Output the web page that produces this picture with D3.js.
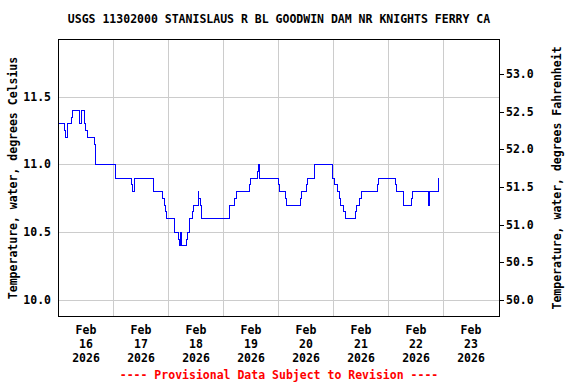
<!DOCTYPE html>
<html><head><meta charset="utf-8">
<script src="https://cdn.jsdelivr.net/npm/d3@7"></script>
<style>
html,body{margin:0;padding:0;background:#fff;}
text{font-family:"DejaVu Sans Mono",monospace;font-weight:bold;}
</style></head>
<body>
<svg id="c" width="576" height="384"></svg>
<script>
const title = "USGS 11302000 STANISLAUS R BL GOODWIN DAM NR KNIGHTS FERRY CA";
const leftLabel = "Temperature, water, degrees Celsius";
const rightLabel = "Temperature, water, degrees Fahrenheit";
const footer = "---- Provisional Data Subject to Revision ----";
// hours since 2026-02-16 00:00 at which the reading changes
const hours = [0,2.5,3,3.75,5.5,6,9,10,10.25,11.25,11.75,12.5,15.5,16,16.25,24.75,32,32.25,33,41.25,45.25,46.25,46.75,47.25,50.5,50.75,52.5,53,53.25,53.5,56,56.5,57,58.5,59,61,61.25,62,62.5,74.5,77,77.5,83.25,83.75,86.75,87.25,87.5,96,96.5,99,99.5,105.75,106.25,108.25,108.75,111.5,119.5,120.25,121.75,122.5,123.25,124.25,125.25,129.5,130,131.25,132,139,139.75,147,147.5,150.5,154,154.5,161.5,161.75,162,165.75];
const tempC = [11.3,11.25,11.2,11.3,11.35,11.4,11.3,11.35,11.4,11.3,11.25,11.2,11.15,11.1,11.0,10.9,10.85,10.8,10.9,10.8,10.75,10.7,10.65,10.6,10.55,10.5,10.45,10.4,10.5,10.4,10.45,10.5,10.6,10.65,10.7,10.8,10.75,10.7,10.6,10.7,10.75,10.8,10.85,10.9,10.95,11.0,10.9,10.85,10.8,10.75,10.7,10.75,10.8,10.85,10.9,11.0,10.9,10.85,10.8,10.75,10.7,10.65,10.6,10.65,10.7,10.75,10.8,10.85,10.9,10.85,10.8,10.7,10.75,10.8,10.7,10.75,10.8,10.9];
const celsiusTicks = [10.0,10.5,11.0,11.5];
const fahrenheitTicks = [50.0,50.5,51.0,51.5,52.0,52.5,53.0];
const dayLabels = ["16","17","18","19","20","21","22","23"];
const monthLabel = "Feb", yearLabel = "2026";

const base = Date.UTC(2026,1,16);
const H = 3600*1000;
const data = hours.map((h,i)=>({t:new Date(base+h*H), v:tempC[i]}));

const L=58.5, R=498.5, T=39.5, B=316.5;
const x = d3.scaleUtc().domain([new Date(base), new Date(base+8*24*H)]).range([L,R]);
const yDom = [9.882, 11.926];
const y = d3.scaleLinear().domain(yDom).range([316,39]);
const yF = d3.scaleLinear().domain(yDom.map(c=>c*1.8+32)).range([316,39]);

const svg = d3.select("#c");
const fs = "11.5px";

// gridlines
const g = svg.append("g").attr("shape-rendering","crispEdges");
g.selectAll(".hg").data(celsiusTicks).enter().append("line")
  .attr("x1",L).attr("x2",499.5)
  .attr("y1",d=>Math.round(y(d))+0.5).attr("y2",d=>Math.round(y(d))+0.5)
  .attr("stroke","#cccccc");
const gridDays = d3.range(1,8).map(d=>new Date(base+d*24*H));
g.selectAll(".vg").data(gridDays).enter().append("line")
  .attr("x1",d=>x(d)).attr("x2",d=>x(d)).attr("y1",T).attr("y2",B)
  .attr("stroke","#cccccc");

// data line
const line = d3.line().x(d=>x(d.t)).y(d=>y(d.v)).curve(d3.curveStepAfter);
svg.append("path").datum(data).attr("d",line)
  .attr("fill","none").attr("stroke","#0000ff").attr("stroke-width",1)
  .attr("shape-rendering","crispEdges");

// frame
svg.append("rect").attr("x",L).attr("y",T).attr("width",499.5-L).attr("height",B-T)
  .attr("fill","none").attr("stroke","#000").attr("shape-rendering","crispEdges");

// left tick labels
svg.selectAll(".lt").data(celsiusTicks).enter().append("text")
  .attr("x",51).attr("y",d=>y(d)+4).attr("text-anchor","end")
  .attr("font-size",fs).text(d=>d3.format(".1f")(d));

// right ticks
svg.selectAll(".rtk").data(fahrenheitTicks).enter().append("line")
  .attr("x1",499.5).attr("x2",503.5)
  .attr("y1",d=>Math.round(yF(d))+0.5).attr("y2",d=>Math.round(yF(d))+0.5)
  .attr("stroke","#000").attr("shape-rendering","crispEdges");
svg.selectAll(".rt").data(fahrenheitTicks).enter().append("text")
  .attr("x",506).attr("y",d=>yF(d)+4).attr("text-anchor","start")
  .attr("font-size",fs).text(d=>d3.format(".1f")(d));

// x labels at noon
const lab = svg.append("g");
dayLabels.forEach((dl,i)=>{
  const cx = x(new Date(base+(i+0.5)*24*H));
  [monthLabel, dl, yearLabel].forEach((s,j)=>{
    lab.append("text").attr("x",cx).attr("y",334+j*14).attr("text-anchor","middle")
      .attr("font-size",fs).text(s);
  });
});

// title
svg.append("text").attr("x",(L+499.5)/2).attr("y",23).attr("text-anchor","middle")
  .attr("font-size",fs).text(title);

// axis labels
svg.append("text").attr("transform",`translate(17,${(T+B)/2}) rotate(-90)`)
  .attr("text-anchor","middle").attr("font-size",fs).text(leftLabel);
svg.append("text").attr("transform",`translate(561,${(T+B)/2}) rotate(-90)`)
  .attr("text-anchor","middle").attr("font-size",fs).text(rightLabel);

// footer
svg.append("text").attr("x",(L+499.5)/2).attr("y",379).attr("text-anchor","middle")
  .attr("font-size",fs).attr("fill","#ff0000").text(footer);
</script>
</body></html>
